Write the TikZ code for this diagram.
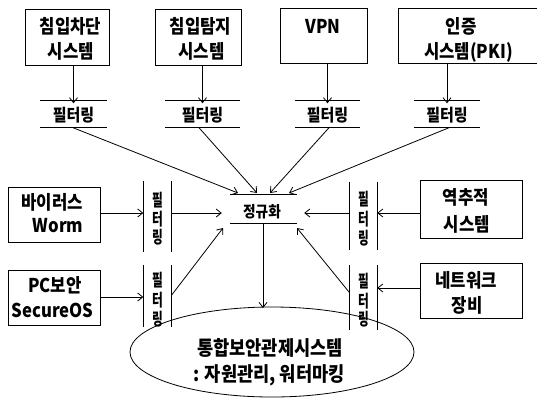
\documentclass[tikz,border=0pt]{standalone}
\usepackage{fontspec}
\usepackage{graphicx}
\setmainfont{Noto Sans CJK KR}[FakeStretch=0.88]
\usetikzlibrary{arrows.meta}
\tikzset{
  ln/.style={line width=0.8pt},
  arr/.style={ln,-{Straight Barb[length=5pt,width=8pt]}},
  sysbox/.style={draw,ln,inner sep=0pt},
  bt/.style={anchor=base,inner sep=0pt,font=\fontsize{19}{22}\selectfont\bfseries},
  ft/.style={anchor=base,inner sep=0pt,font=\fontsize{17}{20}\selectfont\bfseries},
  vt/.style={anchor=base,inner sep=0pt,font=\fontsize{17}{20}\selectfont\bfseries},
  et/.style={anchor=base,inner sep=0pt,font=\fontsize{20}{24}\selectfont\bfseries},
  filtbox/.style={inner sep=0pt},
}
\newcommand{\vch}[1]{\scalebox{0.78}[1]{#1}}
\begin{document}
\begin{tikzpicture}[x=1pt,y=-1pt]
\useasboundingbox[fill=white] (0,0) rectangle (537,397);

% top boxes
\node[sysbox,minimum width=84,minimum height=56] (b1) at (67,37) {};
\node[bt] (b1a) at (70.5,33.5) {침입차단};
\node[bt] (b1b) at (71,58.5) {시스템};
\node[sysbox,minimum width=86,minimum height=56] (b2) at (198,37) {};
\node[bt] (b2a) at (200.5,33.5) {침입탐지};
\node[bt] (b2b) at (201.5,58.5) {시스템};
\node[sysbox,minimum width=87,minimum height=55] (b3) at (323.5,35.5) {};
\node[bt] (b3a) at (323,33) {VPN};
\node[sysbox,minimum width=144,minimum height=55] (b4) at (470,35.5) {};
\node[bt] (b4a) at (461,33) {인증};
\node[bt] (b4b) at (468.5,58.5) {시스템(PKI)};

% top filters
\foreach \n/\x/\w in {f1/73.5/67, f2/202.5/75, f3/327.5/65, f4/447/66}{
  \node[filtbox,minimum width=\w,minimum height=27] (\n) at (\x,114) {};
  \node[ft] (\n t) at (\x,121.8) {필터링};
  \draw[ln] (\n.north west) -- (\n.north east);
  \draw[ln] (\n.south west) -- (\n.south east);
}
\draw[arr] (b1.south -| f1) -- ([yshift=-3pt]f1.north);
\draw[arr] (b2.south -| f2) -- ([yshift=-3pt]f2.north);
\draw[arr] (b3.south -| f3) -- ([yshift=-3pt]f3.north);
\draw[arr] (b4.south -| f4) -- ([yshift=-3pt]f4.north);

% normalisation
\node[filtbox,minimum width=67,minimum height=28] (nm) at (263.5,209) {};
\node[anchor=base,inner sep=0pt,font=\fontsize{15.5}{18}\selectfont\bfseries] (nmt) at (262,217.5) {정규화};
\draw[ln] (nm.north west) -- (nm.north east);
\draw[ln] (nm.south west) -- (nm.south east);
\coordinate (t1) at (238,193);
\coordinate (t2) at (257,193);
\coordinate (t3) at (270,193);
\coordinate (t4) at (289,193);
\draw[arr] ([xshift=-0.5pt]f1.south) -- (t1);
\draw[arr] ([xshift=-3.5pt]f2.south) -- (t2);
\draw[arr] ([xshift=1.5pt]f3.south) -- (t3);
\draw[arr] ([xshift=2pt]f4.south) -- (t4);

% left boxes
\node[sysbox,minimum width=92,minimum height=55] (v) at (54,214.5) {};
\node[bt] (va) at (52,209.5) {바이러스};
\node[bt] (vb) at (58,232) {Worm};
\node[sysbox,minimum width=92,minimum height=55] (pc) at (54,297.5) {};
\node[bt] (pca) at (55,292) {PC보안};
\node[bt] (pcb) at (52.5,317) {SecureOS};

% left vertical filters
\node[filtbox,minimum width=28,minimum height=70] (lf1) at (157.5,216.5) {};
\node[vt] (lf1a) at (157.5,206.3) {\vch{필}};
\node[vt] (lf1b) at (157.5,225.3) {\vch{터}};
\node[vt] (lf1c) at (157.5,243.3) {\vch{링}};
\draw[ln] (lf1.north west) -- (lf1.south west);
\draw[ln] (lf1.north east) -- (lf1.south east);
\node[filtbox,minimum width=28,minimum height=62] (lf2) at (157.5,296) {};
\node[vt] (lf2a) at (157.5,286.3) {\vch{필}};
\node[vt] (lf2b) at (157.5,306.3) {\vch{터}};
\node[vt] (lf2c) at (157.5,325.3) {\vch{링}};
\draw[ln] (lf2.north west) -- (lf2.south west);
\draw[ln] (lf2.north east) -- (lf2.south east);

% right vertical filters
\node[filtbox,minimum width=27,minimum height=68] (rf1) at (363.5,216) {};
\node[vt] (rf1a) at (363.5,205.3) {\vch{필}};
\node[vt] (rf1b) at (363.5,225.3) {\vch{터}};
\node[vt] (rf1c) at (363.5,244.3) {\vch{링}};
\draw[ln] (rf1.north west) -- (rf1.south west);
\draw[ln] (rf1.north east) -- (rf1.south east);
\node[filtbox,minimum width=27,minimum height=65] (rf2) at (363.5,297.5) {};
\node[vt] (rf2a) at (363.5,287.3) {\vch{필}};
\node[vt] (rf2b) at (363.5,307.3) {\vch{터}};
\node[vt] (rf2c) at (363.5,325.3) {\vch{링}};
\draw[ln] (rf2.north west) -- (rf2.south west);
\draw[ln] (rf2.north east) -- (rf2.south east);

% right boxes
\node[sysbox,minimum width=102,minimum height=58] (r1) at (471,209) {};
\node[bt] (r1a) at (466,204) {역추적};
\node[bt] (r1b) at (467,231) {시스템};
\node[sysbox,minimum width=102,minimum height=55] (r2) at (471,290.5) {};
\node[bt] (r2a) at (466,287) {네트워크};
\node[bt] (r2b) at (467,312) {장비};

% left arrows
\draw[arr] (v.east |- 0,213) -- (lf1.west |- 0,213);
\draw[arr] (lf1.east |- 0,213) -- ([xshift=-8pt]nm.west |- 0,213);
\draw[arr] (pc.east |- 0,297) -- (lf2.west |- 0,297);
\coordinate (t5) at (223,228);
\draw[arr] (lf2.east |- 0,295) -- (t5);

% right arrows
\draw[arr] (r1.west |- 0,213) -- (rf1.east |- 0,213);
\draw[arr] (rf1.west |- 0,213) -- ([xshift=7pt]nm.east |- 0,213);
\draw[arr] (r2.west |- 0,288) -- (rf2.east |- 0,288);
\coordinate (t6) at (297,228);
\draw[arr] (rf2.west |- 0,293) -- (t6);

% ellipse
\draw[ln] (272,352) ellipse [x radius=142, y radius=45];
\node[et] (ea) at (270,355.4) {통합보안관제시스템};
\node[et] (eb) at (269,381) {: 자원관리, 워터마킹};
\coordinate (t7) at (263,308);
\draw[arr] (nm.south -| t7) -- (t7);
\end{tikzpicture}
\end{document}
